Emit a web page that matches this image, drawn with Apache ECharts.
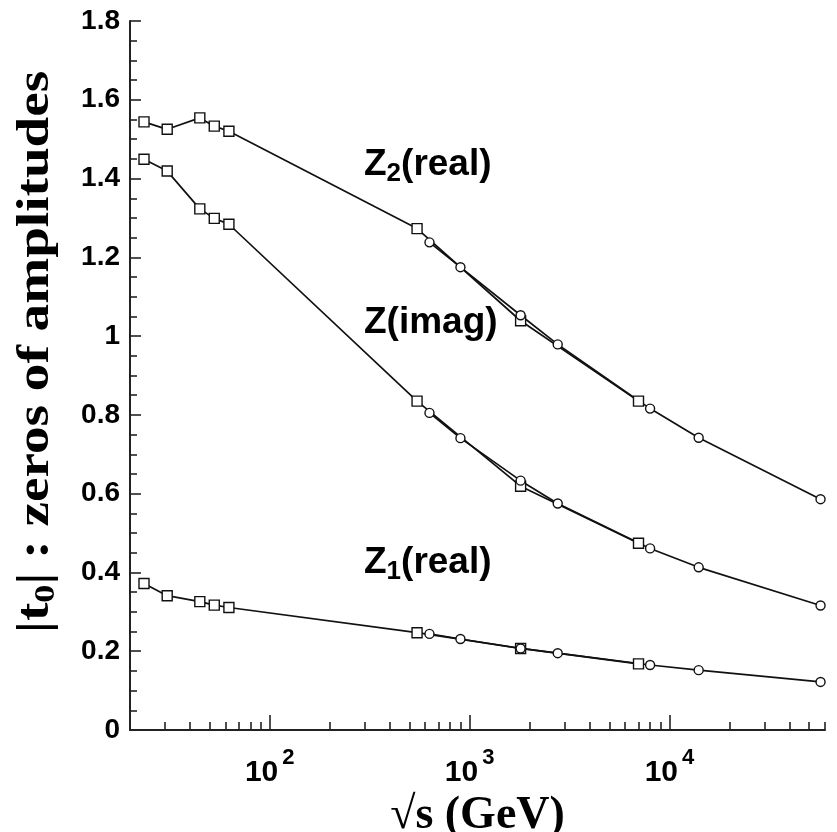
<!DOCTYPE html>
<html>
<head>
<meta charset="utf-8">
<script src="https://cdn.jsdelivr.net/npm/echarts@6/dist/echarts.min.js"></script>
<style>
  html, body { margin: 0; padding: 0; background: #fff; }
  #main { width: 837px; height: 832px; }
</style>
</head>
<body>
<div id="main"></div>
<script>
// sqrt(s) in GeV
var dataEnergies = [23.5, 30.7, 44.7, 52.8, 62.5, 546, 1800, 7000];
var modelEnergies = [630, 900, 1800, 2760, 8000, 14000, 57000];

// squares (data) and circles (model) for each zero
var z2Data = [1.544, 1.525, 1.554, 1.533, 1.520, 1.273, 1.039, 0.835];
var z2Model = [1.238, 1.175, 1.053, 0.979, 0.816, 0.742, 0.586];
var zImagData = [1.449, 1.419, 1.323, 1.299, 1.284, 0.835, 0.619, 0.474];
var zImagModel = [0.805, 0.741, 0.633, 0.575, 0.461, 0.413, 0.316];
var z1Data = [0.372, 0.341, 0.326, 0.317, 0.311, 0.247, 0.207, 0.168];
var z1Model = [0.244, 0.231, 0.207, 0.195, 0.165, 0.152, 0.122];

var majorTicks = [100, 1000, 10000];
var minorTicks = [30, 40, 50, 60, 70, 80, 90,
  200, 300, 400, 500, 600, 700, 800, 900,
  2000, 3000, 4000, 5000, 6000, 7000, 8000, 9000,
  20000, 30000, 40000, 50000, 60000];

var labelFont = "Liberation Sans";

function pairs(xs, ys) {
  return xs.map(function (x, i) { return [x, ys[i]]; });
}

function line(xs, ys, symbol, size) {
  return {
    type: "line",
    data: pairs(xs, ys),
    symbol: symbol,
    symbolSize: size,
    showAllSymbol: true,
    lineStyle: { color: "#111", width: 1.7 },
    itemStyle: { color: "#fff", borderColor: "#111", borderWidth: 1.4 },
    z: 3
  };
}

function zLabel(text, sub, top) {
  return {
    type: "text", left: 364, top: top,
    style: {
      text: sub ? "{z|Z}{s|" + sub + "}{z|(real)}" : "{z|" + text + "}",
      rich: {
        z: { fontFamily: "Liberation Sans", fontWeight: "bold", fontSize: 37, fill: "#000" },
        s: { fontFamily: "Liberation Sans", fontWeight: "bold", fontSize: 26, fill: "#000", padding: [18, 0, 0, 0] }
      }
    }
  };
}

var chart = echarts.init(document.getElementById("main"));

var option = {
  animation: false,
  grid: { left: 130, right: 12, top: 21, bottom: 102, outerBoundsMode: "none", containLabel: false },
  xAxis: [
    {
      type: "log",
      logBase: 10,
      min: 20,
      max: 60000,
      name: "√s (GeV)",
      nameLocation: "middle",
      nameGap: 57,
      nameTextStyle: { fontFamily: "Liberation Serif", fontWeight: "bold", fontSize: 46, color: "#000" },
      axisLine: { lineStyle: { color: "#222", width: 2 } },
      axisTick: { inside: true, length: 15, customValues: majorTicks, lineStyle: { color: "#222", width: 1.6 } },
      minorTick: { show: false },
      splitLine: { show: false },
      axisLabel: {
        customValues: majorTicks,
        margin: 14,
        formatter: function (v) {
          return "{b|10}{s|" + Math.round(Math.log10(v)) + "}";
        },
        rich: {
          b: { fontFamily: labelFont, fontWeight: "bold", fontSize: 30, color: "#000", padding: [14, 0, 0, 0] },
          s: { fontFamily: labelFont, fontWeight: "bold", fontSize: 22, color: "#000", padding: [0, 0, 16, 4] }
        }
      }
    },
    {
      type: "log",
      logBase: 10,
      min: 20,
      max: 60000,
      position: "bottom",
      axisLine: { show: false },
      axisTick: { inside: true, length: 8, customValues: minorTicks, lineStyle: { color: "#222", width: 1.6 } },
      axisLabel: { show: false },
      splitLine: { show: false }
    }
  ],
  yAxis: {
    type: "value",
    min: 0,
    max: 1.8,
    interval: 0.2,
    axisLine: { lineStyle: { color: "#222", width: 2 } },
    axisTick: { inside: true, length: 11, lineStyle: { color: "#222", width: 1.6 } },
    minorTick: { show: true, splitNumber: 4, length: 7, lineStyle: { color: "#222", width: 1.6 } },
    splitLine: { show: false },
    axisLabel: {
      margin: 10,
      fontFamily: labelFont,
      fontWeight: "bold",
      fontSize: 28,
      color: "#000",
      formatter: function (v) { return String(Math.round(v * 10) / 10); }
    }
  },
  graphic: [
    zLabel("Z", "2", 146),
    zLabel("Z(imag)", null, 304),
    zLabel("Z", "1", 544),
    {
      // y axis title, stretched along its length like the original
      type: "text",
      x: 36, y: 352,
      rotation: Math.PI / 2,
      scaleX: 1.2,
      style: {
        text: "{a||t}{s|0}{a|| : zeros of amplitudes}",
        align: "center",
        verticalAlign: "middle",
        rich: {
          a: { fontFamily: "Liberation Serif", fontWeight: "bold", fontSize: 46, fill: "#000" },
          s: { fontFamily: "Liberation Serif", fontWeight: "bold", fontSize: 30, fill: "#000", padding: [20, 0, 0, 0] }
        }
      }
    }
  ],
  series: [
    line(dataEnergies, z2Data, "rect", 10),
    line(modelEnergies, z2Model, "circle", 9),
    line(dataEnergies, zImagData, "rect", 10),
    line(modelEnergies, zImagModel, "circle", 9),
    line(dataEnergies, z1Data, "rect", 10),
    line(modelEnergies, z1Model, "circle", 9)
  ]
};

chart.setOption(option);
</script>
</body>
</html>
